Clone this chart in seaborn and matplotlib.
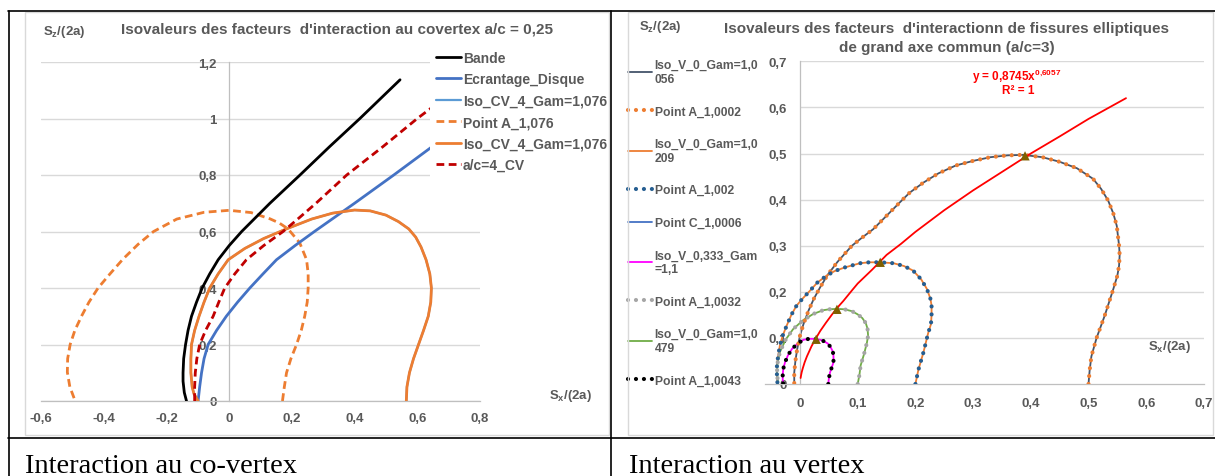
import matplotlib
matplotlib.use('Agg')
import matplotlib.pyplot as plt
from matplotlib.lines import Line2D
from matplotlib.patches import Rectangle
from matplotlib.ticker import MultipleLocator
import seaborn as sns

# ---------------- left chart : co-vertex, a/c = 0.25 ----------------
bande_x = [-0.136, -0.143, -0.147, -0.147, -0.145, -0.139, -0.131, -0.120, -0.104, -0.086, -0.062,
           -0.035, 0.000, 0.040, 0.085, 0.130, 0.178, 0.226, 0.320, 0.417, 0.545]
bande_y = [0.0, 0.03, 0.07, 0.1, 0.15, 0.2, 0.25, 0.3, 0.35, 0.4, 0.45,
           0.5, 0.55, 0.6, 0.65, 0.7, 0.75, 0.8, 0.9, 1.0, 1.137]

disque_x = [-0.099, -0.096, -0.094, -0.088, -0.080, -0.067, -0.040, -0.009, 0.027, 0.066, 0.108,
            0.151, 0.210, 0.272, 0.336, 0.400, 0.525, 0.647, 0.750]
disque_y = [0.0, 0.03, 0.05, 0.1, 0.15, 0.2, 0.25, 0.3, 0.35, 0.4, 0.45,
            0.5, 0.55, 0.6, 0.65, 0.7, 0.8, 0.9, 0.985]

iso_cv_x = [-0.099, -0.112, -0.118, -0.122, -0.122, -0.120, -0.110, -0.096, -0.080, -0.062, -0.035,
            -0.003, 0.050, 0.110, 0.180, 0.263, 0.330, 0.400, 0.450, 0.500, 0.540, 0.573, 0.595,
            0.612, 0.628, 0.640, 0.645, 0.643, 0.635, 0.620, 0.604, 0.588, 0.575, 0.567, 0.565]
iso_cv_y = [0.0, 0.025, 0.05, 0.1, 0.15, 0.2, 0.25, 0.3, 0.35, 0.4, 0.45,
            0.5, 0.54, 0.575, 0.608, 0.644, 0.665, 0.676, 0.673, 0.658, 0.635, 0.609, 0.58,
            0.545, 0.5, 0.45, 0.4, 0.35, 0.3, 0.25, 0.2, 0.15, 0.1, 0.05, 0.0]

pointA_x = [0.170, 0.176, 0.183, 0.197, 0.215, 0.230, 0.241, 0.249, 0.252, 0.252, 0.247, 0.225,
            0.188, 0.160, 0.130, 0.070, 0.000, -0.080, -0.167, -0.241, -0.290, -0.338, -0.380,
            -0.418, -0.447, -0.470, -0.492, -0.507, -0.515, -0.516, -0.508, -0.491]
pointA_y = [0.0, 0.05, 0.1, 0.15, 0.2, 0.25, 0.3, 0.35, 0.4, 0.45, 0.5, 0.56,
            0.609, 0.63, 0.645, 0.667, 0.675, 0.668, 0.644, 0.6, 0.555, 0.503, 0.45,
            0.4, 0.35, 0.302, 0.25, 0.2, 0.15, 0.102, 0.05, 0.0]

ac4_x = [-0.110, -0.110, -0.108, -0.103, -0.094, -0.075, -0.051, -0.033, -0.014, 0.018, 0.055,
         0.110, 0.172, 0.225, 0.277, 0.375, 0.490, 0.600, 0.720]
ac4_y = [0.0, 0.05, 0.1, 0.15, 0.2, 0.25, 0.3, 0.35, 0.4, 0.45, 0.5,
         0.55, 0.6, 0.65, 0.7, 0.8, 0.9, 1.0, 1.1]

left_labels = ['Bande', 'Ecrantage_Disque', 'Iso_CV_4_Gam=1,076', 'Point A_1,076',
               'Iso_CV_4_Gam=1,076', 'a/c=4_CV']
left_xticks = [-0.6, -0.4, -0.2, 0.0, 0.2, 0.4, 0.6, 0.8]
left_xticklabels = ['-0,6', '-0,4', '-0,2', '0', '0,2', '0,4', '0,6', '0,8']
left_yticks = [0.0, 0.2, 0.4, 0.6, 0.8, 1.0, 1.2]
left_yticklabels = ['0', '0,2', '0,4', '0,6', '0,8', '1', '1,2']

# ---------------- right chart : vertex, a/c = 3 ----------------
loop1_x = [0.500, 0.502, 0.505, 0.514, 0.528, 0.543, 0.550, 0.553, 0.554, 0.553, 0.549, 0.543,
           0.534, 0.522, 0.508, 0.480, 0.450, 0.420, 0.387, 0.360, 0.330, 0.300, 0.270, 0.240,
           0.214, 0.190, 0.173, 0.150, 0.127, 0.108, 0.090, 0.065, 0.048, 0.035, 0.024, 0.015,
           0.006, 0.000, -0.005, -0.008, -0.010, -0.010]
loop1_y = [0.0, 0.03, 0.06, 0.1, 0.148, 0.206, 0.235, 0.257, 0.28, 0.3, 0.343, 0.37,
           0.398, 0.423, 0.445, 0.468, 0.482, 0.492, 0.497, 0.496, 0.492, 0.484, 0.474, 0.457,
           0.437, 0.415, 0.394, 0.365, 0.336, 0.318, 0.3, 0.265, 0.237, 0.21, 0.185, 0.16,
           0.13, 0.105, 0.075, 0.05, 0.025, 0.0]

loop2_x = [0.200, 0.205, 0.214, 0.222, 0.227, 0.228, 0.228, 0.226, 0.220, 0.210, 0.196, 0.180,
           0.162, 0.139, 0.120, 0.104, 0.078, 0.060, 0.046, 0.030, 0.017, 0.005, -0.006, -0.015,
           -0.023, -0.030, -0.035, -0.038, -0.040, -0.040, -0.039]
loop2_y = [0.0, 0.03, 0.069, 0.11, 0.13, 0.15, 0.17, 0.185, 0.206, 0.227, 0.246, 0.256,
           0.262, 0.264, 0.264, 0.262, 0.253, 0.245, 0.235, 0.22, 0.202, 0.186, 0.17, 0.15,
           0.127, 0.105, 0.083, 0.06, 0.04, 0.02, 0.0]

loop3_x = [0.100, 0.103, 0.105, 0.111, 0.116, 0.118, 0.117, 0.114, 0.108, 0.100, 0.090, 0.077,
           0.064, 0.050, 0.040, 0.023, 0.005, -0.012, -0.025, -0.035, -0.039, -0.040, -0.038]
loop3_y = [0.0, 0.02, 0.04, 0.065, 0.09, 0.105, 0.12, 0.132, 0.143, 0.151, 0.158, 0.162,
           0.163, 0.162, 0.16, 0.152, 0.138, 0.119, 0.096, 0.069, 0.045, 0.025, 0.0]

loop4_x = [0.049, 0.050, 0.052, 0.055, 0.058, 0.058, 0.057, 0.053, 0.048, 0.038, 0.026, 0.016,
           0.006, -0.004, -0.014, -0.021, -0.026, -0.029, -0.030, -0.030, -0.029]
loop4_y = [0.0, 0.012, 0.025, 0.036, 0.047, 0.06, 0.07, 0.08, 0.088, 0.095, 0.098, 0.098,
           0.096, 0.088, 0.076, 0.062, 0.047, 0.033, 0.02, 0.01, 0.0]

apex_x = [0.390, 0.139, 0.064, 0.028]
apex_y = [0.495, 0.264, 0.162, 0.097]

trend_x = [0.001, 0.002, 0.003, 0.005, 0.008, 0.012, 0.016, 0.020, 0.027, 0.035, 0.045, 0.055,
           0.065, 0.075, 0.090, 0.100, 0.125, 0.150, 0.175, 0.200, 0.250, 0.300, 0.350, 0.400,
           0.450, 0.500, 0.565]
trend_y = [0.013, 0.020, 0.026, 0.035, 0.047, 0.060, 0.071, 0.082, 0.098, 0.115, 0.133, 0.150,
           0.166, 0.180, 0.203, 0.218, 0.248, 0.280, 0.304, 0.330, 0.377, 0.420, 0.460, 0.500,
           0.537, 0.575, 0.620]

right_labels = ['Iso_V_0_Gam=1,0\n056', 'Point A_1,0002', 'Iso_V_0_Gam=1,0\n209', 'Point A_1,002',
                'Point C_1,0006', 'Iso_V_0,333_Gam\n=1,1', 'Point A_1,0032', 'Iso_V_0_Gam=1,0\n479',
                'Point A_1,0043']
right_ticks = [0.0, 0.1, 0.2, 0.3, 0.4, 0.5, 0.6, 0.7]
right_ticklabels = ['0', '0,1', '0,2', '0,3', '0,4', '0,5', '0,6', '0,7']

sns.set_theme(style='white')
plt.rcParams['font.family'] = ['Liberation Sans', 'DejaVu Sans']
plt.rcParams['mathtext.fontset'] = 'custom'
plt.rcParams['mathtext.rm'] = 'Liberation Sans:bold'
plt.rcParams['mathtext.it'] = 'Liberation Sans:bold'
plt.rcParams['mathtext.bf'] = 'Liberation Sans:bold'

GREY = '#595959'
W, H = 1215, 477


def fx(px):
    return px / W


def fy(py):
    return 1 - py / H


def curve(ax, x, y, color, lw, ls='-', z=2, cap='butt'):
    sns.lineplot(x=x, y=y, sort=False, estimator=None, ax=ax, color=color, lw=lw,
                 linestyle=ls, dash_capstyle=cap, solid_joinstyle='round', zorder=z, legend=False)
    return ax.lines[-1]


def style_axis(ax, tick_dir):
    for s in ['top', 'right']:
        ax.spines[s].set_visible(False)
    for s in ['left', 'bottom']:
        ax.spines[s].set_color('#bfbfbf')
        ax.spines[s].set_linewidth(0.9)
    ax.spines['left'].set_position(('data', 0))
    ax.tick_params(which='both', length=3, width=0.8, color='#bfbfbf', direction=tick_dir)
    ax.tick_params(which='major', labelsize=9.5, labelcolor=GREY, pad=6)
    for t in ax.get_xticklabels() + ax.get_yticklabels():
        t.set_fontweight('bold')
    ax.set_xlabel('')
    ax.set_ylabel('')
    ax.set_facecolor('none')


fig = plt.figure(figsize=(W / 100, H / 100), dpi=100)

# ---------------- left ----------------
axL = fig.add_axes([fx(41), fy(402), fx(480 - 41), (402 - 63) / H])
axL.yaxis.grid(True, color='#d9d9d9', lw=1)
axL.set_axisbelow(True)
l_iso_blue = curve(axL, iso_cv_x, iso_cv_y, '#5b9bd5', 1.6, z=2)
l_pointA = curve(axL, pointA_x, pointA_y, '#ed7d31', 2.0, ls=(0, (2.8, 1.6)), z=3)
l_disque = curve(axL, disque_x, disque_y, '#4472c4', 2.0, z=3)
l_iso_orange = curve(axL, iso_cv_x, iso_cv_y, '#ed7d31', 2.0, z=4)
l_ac4 = curve(axL, ac4_x, ac4_y, '#c00000', 2.0, ls=(0, (2.8, 1.6)), z=5)
l_bande = curve(axL, bande_x, bande_y, 'black', 2.0, z=6)

axL.set_xlim(-0.6, 0.8)
axL.set_ylim(0, 1.2)
axL.set_xticks(left_xticks)
axL.set_xticklabels(left_xticklabels)
axL.set_yticks(left_yticks)
axL.set_yticklabels(left_yticklabels)
axL.xaxis.set_minor_locator(MultipleLocator(0.02))
axL.yaxis.set_minor_locator(MultipleLocator(0.04))
style_axis(axL, 'out')
axL.tick_params(axis='x', which='both', direction='in')
axL.tick_params(axis='x', which='major', pad=8)

legL = axL.legend([l_bande, l_disque, l_iso_blue, l_pointA, l_iso_orange, l_ac4], left_labels,
                  loc='upper left', bbox_to_anchor=(fx(430), fy(46)), bbox_transform=fig.transFigure,
                  frameon=True, facecolor='white', edgecolor='none', framealpha=1, fancybox=False,
                  borderpad=0.4, borderaxespad=0, handlelength=1.8, handletextpad=0.15,
                  labelspacing=0.54, prop={'weight': 'bold', 'size': 10}, labelcolor=GREY)
legL.set_zorder(10)

fig.text(fx(337), fy(29), "Isovaleurs des facteurs  d'interaction au covertex a/c = 0,25",
         ha='center', va='center', size=11, weight='bold', color=GREY)
fig.text(fx(43), fy(32), 'S$_z$/(2a)', ha='left', va='center', size=9.5, weight='bold', color=GREY)
fig.text(fx(549), fy(396), 'S$_x$/(2a)', ha='left', va='center', size=9.5, weight='bold', color=GREY)

# ---------------- right ----------------
axR = fig.add_axes([fx(765.4), fy(385), fx(1203.9 - 765.4), (385 - 62.3) / H])
axR.hlines(right_ticks[1:], 0, 0.7, color='#d9d9d9', lw=1, zorder=0)
dots = (0, (0.01, 1.9))
r1 = curve(axR, loop1_x, loop1_y, '#44546a', 1.3, z=2)
r2 = curve(axR, loop1_x, loop1_y, '#ed7d31', 3.0, ls=dots, z=3, cap='round')
r3 = curve(axR, loop2_x, loop2_y, '#ed7d31', 1.3, z=2)
r4 = curve(axR, loop2_x, loop2_y, '#255e91', 3.0, ls=dots, z=3, cap='round')
r6 = curve(axR, loop4_x, loop4_y, '#ff00ff', 1.3, z=2)
r7 = curve(axR, loop3_x, loop3_y, '#a5a5a5', 3.0, ls=dots, z=3, cap='round')
r8 = curve(axR, loop3_x, loop3_y, '#70ad47', 1.3, z=2)
r9 = curve(axR, loop4_x, loop4_y, 'black', 3.0, ls=dots, z=3, cap='round')
r5 = Line2D([], [], color='#4472c4', lw=1.3)
curve(axR, trend_x, trend_y, '#ff0000', 1.3, z=4)
sns.scatterplot(x=apex_x, y=apex_y, marker='^', s=45, color='#7f6000', edgecolor='none',
                zorder=5, ax=axR, legend=False)

axR.set_xlim(-0.06, 0.7)
axR.set_ylim(0, 0.7)
axR.set_xticks(right_ticks)
axR.set_xticklabels(right_ticklabels)
axR.set_yticks(right_ticks)
axR.set_yticklabels(right_ticklabels)
axR.xaxis.set_minor_locator(MultipleLocator(0.02))
axR.yaxis.set_minor_locator(MultipleLocator(0.02))
style_axis(axR, 'inout')
axR.tick_params(which='major', pad=8)

legR = axR.legend([r1, r2, r3, r4, r5, r6, r7, r8, r9], right_labels,
                  loc='upper left', bbox_to_anchor=(fx(628), fy(60)), bbox_transform=fig.transFigure,
                  frameon=False, borderpad=0, borderaxespad=0, handlelength=2.0, handletextpad=0.2,
                  labelspacing=1.7, prop={'weight': 'bold', 'size': 8.7}, labelcolor=GREY)

fig.text(fx(947), fy(38.5), "Isovaleurs des facteurs  d'interactionn de fissures elliptiques\n"
         "de grand axe commun (a/c=3)", ha='center', va='center', size=11, weight='bold',
         color=GREY, linespacing=1.4)
fig.text(fx(639), fy(27), 'S$_z$/(2a)', ha='left', va='center', size=9.5, weight='bold', color=GREY)
fig.text(fx(1148), fy(347), 'S$_x$/(2a)', ha='left', va='center', size=9.5, weight='bold', color=GREY)
fig.text(fx(1017), fy(77), r'y = 0,8745x$^{0{,}6057}$', ha='center', va='center', size=8.5,
         weight='bold', color='#ff0000')
fig.text(fx(1018), fy(91), 'R² = 1', ha='center', va='center', size=8.5, weight='bold', color='#ff0000')

# ---------------- chart frames and table ----------------
fig.add_artist(Rectangle((fx(25), fy(436)), fx(609 - 25), (436 - 13) / H, transform=fig.transFigure,
                         fill=False, edgecolor='#d9d9d9', lw=1))
fig.add_artist(Rectangle((fx(628), fy(436)), fx(1213 - 628), (436 - 13) / H, transform=fig.transFigure,
                         fill=False, edgecolor='#d9d9d9', lw=1))
for yy in [11.5, 439]:
    fig.add_artist(Line2D([fx(8), 1], [fy(yy), fy(yy)], color='black', lw=1.2))
for xx in [8.5, 611]:
    fig.add_artist(Line2D([fx(xx), fx(xx)], [fy(11.5), 0], color='black', lw=1.2))

fig.text(fx(25), fy(473), 'Interaction au co-vertex', family='Liberation Serif', size=20.5,
         ha='left', va='baseline', color='black')
fig.text(fx(629), fy(473), 'Interaction au vertex', family='Liberation Serif', size=20.5,
         ha='left', va='baseline', color='black')

fig.savefig('out.png', dpi=100)
